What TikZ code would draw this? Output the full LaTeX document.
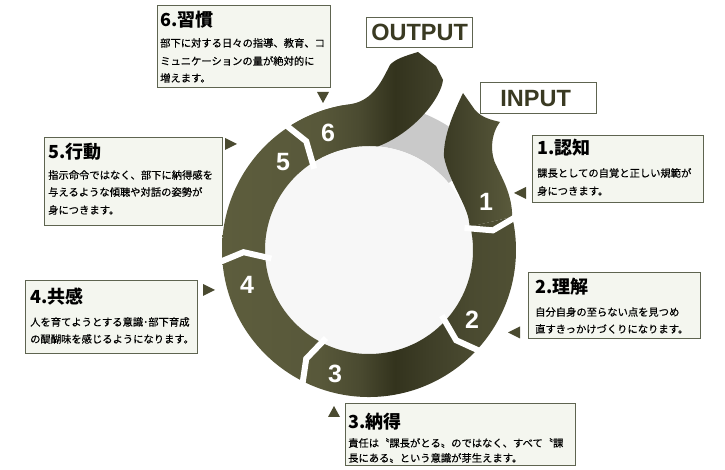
\documentclass[tikz,border=0pt]{standalone}
\usepackage{fontspec}
\setmainfont{Liberation Sans}
\newfontfamily\jp{Noto Sans CJK JP}
\newfontfamily\jpm{Noto Sans CJK JP}[FakeBold=0.4]
\usetikzlibrary{calc}
\definecolor{ol1}{HTML}{5D5D3D}
\definecolor{ol2}{HTML}{58583A}
\definecolor{ol3}{HTML}{4A4A30}
\definecolor{ol4}{HTML}{33331D}
\definecolor{ol5}{HTML}{3F3F28}
\definecolor{ol6}{HTML}{4A4A30}
\definecolor{ol7}{HTML}{505034}
\definecolor{s1l}{HTML}{3A3A24}
\definecolor{s1r}{HTML}{5A5A3C}
\definecolor{graybd}{HTML}{C9C9C9}
\definecolor{innerc}{HTML}{F7F7F7}
\definecolor{boxborder}{HTML}{5E6450}
\definecolor{boxfill}{HTML}{F4F6EF}
\definecolor{iotext}{HTML}{3A3A22}
\definecolor{ptrc}{HTML}{4A4A30}
\pgfdeclarehorizontalshading{olivering}{100bp}{color(0bp)=(ol1); color(25bp)=(ol1); color(41.6bp)=(ol2); color(48.4bp)=(ol3); color(54.3bp)=(ol4); color(60.3bp)=(ol5); color(67bp)=(ol6); color(75bp)=(ol7); color(100bp)=(ol7)}
\tikzset{
  infobox/.style={draw=boxborder, line width=1.3pt, fill=boxfill, anchor=north west, inner sep=0pt},
  iobox/.style={draw=boxborder, line width=1.3pt, fill=white, anchor=north west, inner sep=0pt},
  iotxt/.style={text=iotext, font=\fontsize{23.5}{24}\selectfont\bfseries, inner sep=0pt},
  ttl/.style={anchor=west, inner sep=0pt, font=\jp\bfseries\fontsize{18}{20}\selectfont, text=black},
  bodyln/.style={anchor=west, inner sep=0pt, font=\jpm\fontsize{10.3}{12}\selectfont, text=black},
  num/.style={text=white, font=\fontsize{25}{26}\selectfont\bfseries, inner sep=0pt},
  gapline/.style={draw=white, line width=6pt, line join=miter},
  ptr/.style={fill=ptrc},
}
\begin{document}
\begin{tikzpicture}[x=1pt,y=1pt]
\useasboundingbox (0,0) rectangle (725,470);
\coordinate (C) at (369,220);
% gray background band
\fill[graybd] ($(C)+(40:104)$) arc[start angle=40,end angle=100,radius=104]
  -- ($(C)+(100:147)$) arc[start angle=100,end angle=40,radius=147] -- cycle;
% inner disc
\fill[innerc] (C) circle[radius=104];
% main ring
\begin{scope}
\clip ($(C)+(100:147)$) arc[start angle=100,end angle=373,radius=147]
  -- ($(C)+(373:104)$) arc[start angle=373,end angle=100,radius=104] -- cycle;
\shade[shading=olivering] (222,60) rectangle (517,430);
\end{scope}
% tail of segment 6 towards OUTPUT
\begin{scope}
\clip ($(C)+(124:147)$) arc[start angle=124,end angle=97,radius=147]
  .. controls (374,370) and (382,390) .. (390,405)
  .. controls (395,411) and (405,414) .. (418,418)
  -- (436,404) -- (443,390)
  .. controls (441,372) and (415,338) .. ($(C)+(85:104)$)
  arc[start angle=85,end angle=124,radius=104] -- cycle;
\shade[shading=olivering] (222,60) rectangle (517,430);
\end{scope}
% segment 1 from INPUT
\shade[left color=s1l, right color=s1r] ($(C)+(13:103)$)
  .. controls (470,262) and (450,285) .. (444,313)
  .. controls (443,335) and (455,360) .. (463,377)
  -- (475,360)
  .. controls (482,352) and (492,350) .. (500,348)
  .. controls (490,335) and (490,315) .. (497,303)
  .. controls (503,290) and (512,275) .. ($(C)+(13:147)$) -- cycle;
% white gaps between segments
\foreach \a in {13,-42,-116,185,124}
  \draw[gapline] ($(C)+(\a:98)$) -- ($(C)+(\a-4:125.5)$) -- ($(C)+(\a:153)$);
% segment numbers
\node[num] (n1) at (486,268) {1};
\node[num] (n2) at (472,150) {2};
\node[num] (n3) at (335,96) {3};
\node[num] (n4) at (247,185) {4};
\node[num] (n5) at (283,308) {5};
\node[num] (n6) at (328,337) {6};
% OUTPUT / INPUT
\node[iobox, minimum width=106pt, minimum height=30pt] (outb) at (366,453) {};
\node[iotxt] (outt) at (outb.center) {OUTPUT};
\node[iobox, minimum width=116pt, minimum height=31pt] (inb) at (480,388) {};
\node[iotxt] (intx) at ([xshift=-3pt]inb.center) {INPUT};
% box 6
\node[infobox, minimum width=173pt, minimum height=82pt] (b6) at (157,465) {};
\node[ttl] (b6t) at (160,450) {6.習慣};
\node[bodyln] (b6a) at (160,427) {部下に対する日々の指導、教育、コ};
\node[bodyln] (b6b) at (160,409) {ミュニケーションの量が絶対的に};
\node[bodyln] (b6c) at (160,392) {増えます。};
% box 5
\node[infobox, minimum width=178pt, minimum height=88pt] (b5) at (44,333) {};
\node[ttl] (b5t) at (48,318) {5.行動};
\node[bodyln] (b5a) at (48,295) {指示命令ではなく、部下に納得感を};
\node[bodyln] (b5b) at (48,278) {与えるような傾聴や対話の姿勢が};
\node[bodyln] (b5c) at (48,260) {身につきます。};
% box 1
\node[infobox, minimum width=171pt, minimum height=67pt] (b1) at (532,335) {};
\node[ttl] (b1t) at (537,322) {1.認知};
\node[bodyln] (b1a) at (537,297) {課長としての自覚と正しい規範が};
\node[bodyln] (b1b) at (537,279) {身につきます。};
% box 2
\node[infobox, minimum width=172pt, minimum height=66pt] (b2) at (528,198) {};
\node[ttl] (b2t) at (535,183) {2.理解};
\node[bodyln] (b2a) at (535,158) {自分自身の至らない点を見つめ};
\node[bodyln] (b2b) at (535,141) {直すきっかけづくりになります。};
% box 4
\node[infobox, minimum width=172pt, minimum height=73pt] (b4) at (25,190) {};
\node[ttl] (b4t) at (30,173) {4.共感};
\node[bodyln] (b4a) at (30,148) {人を育てようとする意識･部下育成};
\node[bodyln] (b4b) at (30,131) {の醍醐味を感じるようになります。};
% box 3
\node[infobox, minimum width=230pt, minimum height=62pt] (b3) at (345,67) {};
\node[ttl] (b3t) at (348,48) {3.納得};
\node[bodyln] (b3a) at (348,27) {責任は〝課長がとる〟のではなく、すべて〝課};
\node[bodyln] (b3b) at (348,12) {長にある〟という意識が芽生えます。};
% pointer triangles
\fill[ptr] (317,378) -- (329,378) -- (323,367) -- cycle;
\fill[ptr] (225,332) -- (225,320) -- (237,326) -- cycle;
\fill[ptr] (526,283) -- (526,271) -- (514,277) -- cycle;
\fill[ptr] (520,143.5) -- (520,131.5) -- (508,137.5) -- cycle;
\fill[ptr] (203,186) -- (203,174) -- (215,180) -- cycle;
\fill[ptr] (328,53) -- (340,53) -- (334,64) -- cycle;
\end{tikzpicture}
\end{document}
